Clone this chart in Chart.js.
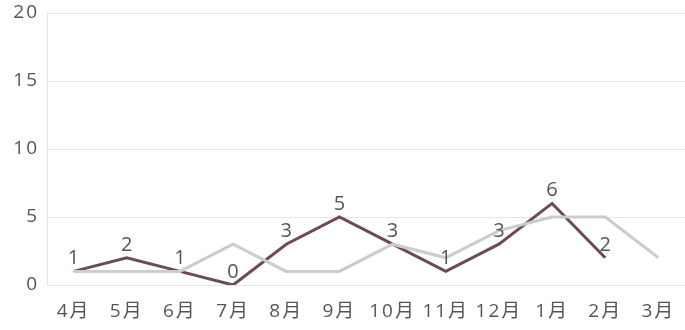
<!DOCTYPE html>
<html>
<head>
<meta charset="utf-8">
<script src="https://cdn.jsdelivr.net/npm/chart.js@4"></script>
<style>
  html, body { margin: 0; padding: 0; background: #fff; }
  #wrap { width: 685px; height: 330px; }
</style>
</head>
<body>
<div id="wrap"><canvas id="lineChart"></canvas></div>
<script>
// Monthly counts, fiscal year April → March
const months = ['4月', '5月', '6月', '7月', '8月', '9月', '10月', '11月', '12月', '1月', '2月', '3月'];
const previousYear = [1, 1, 1, 3, 1, 1, 3, 2, 4, 5, 5, 2];
const currentYear = [1, 2, 1, 0, 3, 5, 3, 1, 3, 6, 2];
const yTicks = [0, 5, 10, 15, 20];

const FONT = "'Open Sans', 'Noto Sans CJK JP', sans-serif";
const TEXT = '#555555';

// Wider letter spacing for all canvas text, like the original
const spacing = {
  id: 'spacing',
  beforeDraw(chart) { chart.ctx.letterSpacing = '2px'; }
};

// Draw the value above each point of the current-year line
const valueLabels = {
  id: 'valueLabels',
  afterDatasetsDraw(chart) {
    const ctx = chart.ctx;
    const meta = chart.getDatasetMeta(1);
    ctx.save();
    ctx.letterSpacing = '0px';
    ctx.font = '20px ' + FONT;
    ctx.fillStyle = TEXT;
    ctx.textAlign = 'center';
    ctx.textBaseline = 'alphabetic';
    meta.data.forEach((pt, i) => {
      ctx.fillText(String(currentYear[i]), pt.x, pt.y - 7);
    });
    ctx.restore();
  }
};

new Chart(document.getElementById('lineChart'), {
  type: 'line',
  data: {
    labels: months,
    datasets: [
      {
        label: '前年',
        data: previousYear,
        borderColor: '#cccccc',
        borderWidth: 3,
        pointRadius: 0,
        tension: 0
      },
      {
        label: '今年',
        data: currentYear,
        borderColor: '#6e4b50',
        borderWidth: 3,
        pointRadius: 0,
        tension: 0
      }
    ]
  },
  options: {
    responsive: true,
    maintainAspectRatio: false,
    animation: false,
    layout: { padding: { top: 13, right: 0, left: 0, bottom: 0 } },
    plugins: { legend: { display: false }, tooltip: { enabled: false } },
    scales: {
      x: {
        offset: true,
        grid: { display: false },
        border: { display: false },
        afterFit: axis => { axis.height = 45; },
        ticks: { color: TEXT, font: { family: FONT, size: 19 }, padding: 7, maxRotation: 0, autoSkip: false }
      },
      y: {
        min: 0,
        max: 20,
        afterBuildTicks: axis => { axis.ticks = yTicks.map(v => ({ value: v })); },
        afterFit: axis => { axis.width = 47; axis.paddingTop = 0; },
        grid: { color: '#e6e6e6', drawTicks: false },
        border: { color: '#e6e6e6' },
        ticks: { color: TEXT, font: { family: FONT, size: 19 }, padding: 8 }
      }
    }
  },
  plugins: [spacing, valueLabels]
});
</script>
</body>
</html>
